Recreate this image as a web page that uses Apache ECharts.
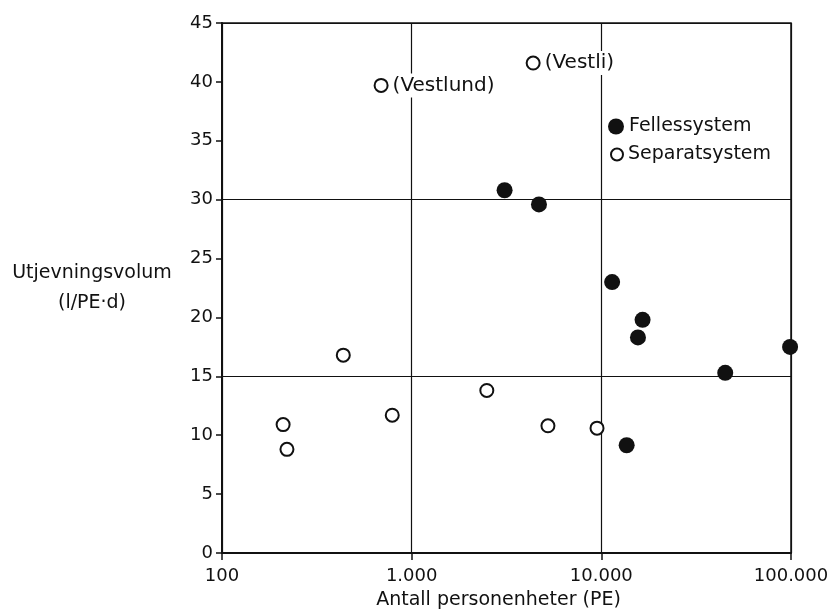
<!DOCTYPE html>
<html>
<head>
<meta charset="utf-8">
<script src="https://cdn.jsdelivr.net/npm/echarts@6/dist/echarts.min.js"></script>
<style>html,body{margin:0;padding:0;background:#fff}#c{width:834px;height:615px}</style>
</head>
<body>
<div id="c"></div>
<script>
// Separatsystem (open circles)
const sepX = [210, 220, 436, 790, 2490, 5230, 9490, 690, 4370];
const sepY = [10.9, 8.8, 16.8, 11.7, 13.8, 10.8, 10.6, 39.7, 41.6];
const sepNames = ['', '', '', '', '', '', '', '(Vestlund)', '(Vestli)'];
// Fellessystem (filled circles)
const felX = [3090, 4690, 11400, 16500, 15600, 45000, 98900, 13600];
const felY = [30.8, 29.6, 23.0, 19.8, 18.3, 15.3, 17.5, 9.15];
const seriesNames = ['Fellessystem', 'Separatsystem'];
const xTitle = 'Antall personenheter (PE)';
const yTitle = 'Utjevningsvolum\n(l/PE·d)';

const FONT = 'DejaVu Sans';
const INK = '#111';

function fmtThousands(v) {
  return String(Math.round(v)).replace(/\B(?=(\d{3})+(?!\d))/g, '.');
}

const felData = felX.map((x, i) => [x, felY[i]]);
const sepData = sepX.map((x, i) => {
  const item = { value: [x, sepY[i]], name: sepNames[i] };
  if (sepNames[i]) {
    item.label = {
      show: true, position: 'right', distance: 3,
      formatter: '{b}', color: INK, fontFamily: FONT, fontSize: 20,
      backgroundColor: '#fff', padding: [2, 1, 2, 1]
    };
  }
  return item;
});

const legendText = { fontFamily: FONT, fontSize: 19, color: INK };

const chart = echarts.init(document.getElementById('c'), null, { renderer: 'canvas' });
chart.setOption({
  backgroundColor: '#fff',
  animation: false,
  textStyle: { fontFamily: FONT, color: INK },
  grid: {
    left: 222, right: 43, top: 23, bottom: 61,
    show: true, borderColor: INK, borderWidth: 1.5
  },
  legend: [{
    orient: 'vertical', left: 608, top: 117,
    itemWidth: 16, itemHeight: 16, padding: 0,
    textStyle: legendText,
    data: [seriesNames[0]]
  }, {
    orient: 'vertical', left: 610, top: 145,
    itemWidth: 12, itemHeight: 12, padding: 0,
    textStyle: legendText,
    data: [seriesNames[1]]
  }],
  xAxis: {
    type: 'log', logBase: 10, min: 100, max: 100000,
    name: xTitle, nameLocation: 'middle', nameGap: 38,
    nameTextStyle: { fontFamily: FONT, fontSize: 19, color: INK, padding: [0, 16, 0, 0] },
    axisLine: { show: true, lineStyle: { color: INK, width: 2 } },
    axisTick: { show: true, length: 7, lineStyle: { color: INK, width: 1.5 } },
    minorTick: { show: false },
    axisLabel: { fontFamily: FONT, fontSize: 18, color: INK, margin: 14, formatter: fmtThousands },
    splitLine: { show: true, lineStyle: { color: INK, width: 1.2 } }
  },
  yAxis: [{
    type: 'value', min: 0, max: 45, interval: 5,
    name: yTitle, nameLocation: 'middle', nameRotate: 0, nameGap: 130,
    nameTextStyle: { fontFamily: FONT, fontSize: 19, color: INK, align: 'center', lineHeight: 30 },
    axisLine: { show: true, lineStyle: { color: INK, width: 2 } },
    axisTick: { show: true, length: 6, lineStyle: { color: INK, width: 1.5 } },
    axisLabel: { fontFamily: FONT, fontSize: 18, color: INK, margin: 9 },
    splitLine: { show: false }
  }, {
    type: 'value', min: 0, max: 45, interval: 15, position: 'left',
    axisLine: { show: false }, axisTick: { show: false }, axisLabel: { show: false },
    splitLine: { show: true, lineStyle: { color: INK, width: 1.2 } }
  }],
  series: [{
    name: seriesNames[0], type: 'scatter', yAxisIndex: 0,
    symbol: 'circle', symbolSize: 16,
    itemStyle: { color: INK, opacity: 1 },
    data: felData, z: 3
  }, {
    name: seriesNames[1], type: 'scatter', yAxisIndex: 0,
    symbol: 'circle', symbolSize: 13,
    itemStyle: { color: '#fff', borderColor: INK, borderWidth: 2, opacity: 1 },
    data: sepData, z: 3
  }]
});
</script>
</body>
</html>
